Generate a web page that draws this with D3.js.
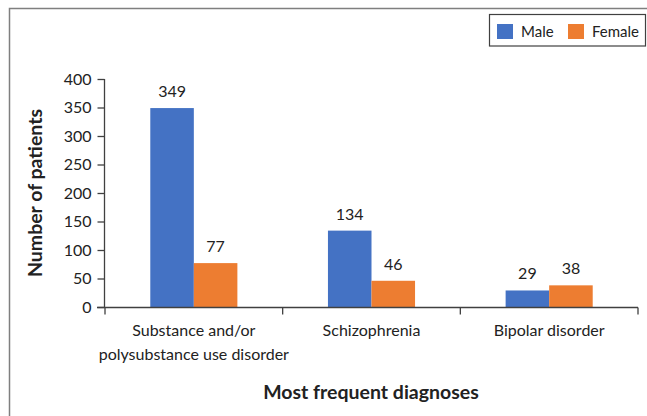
<!DOCTYPE html>
<html>
<head>
  <script src="https://d3js.org/d3.v7.min.js"></script>
  <style>
    body { margin: 0; background: #fff; }
    svg text { font-family: Lato, "Open Sans", sans-serif; fill: #222; }
  </style>
</head>
<body>
<svg id="chart" width="647" height="416"></svg>
<script>
  // data
  let diagnoses = [["Substance and/or", "polysubstance use disorder"], ["Schizophrenia"], ["Bipolar disorder"]];
  let male = [349, 134, 29];
  let female = [77, 46, 38];
  let seriesNames = ["Male", "Female"];
  let yTicks = [0, 50, 100, 150, 200, 250, 300, 350, 400];

  let colors = ["#4472C4", "#ED7D31"];

  let svg = d3.select("#chart");
  let keys = diagnoses.map(d => d.join(" "));
  let data = keys.map((k, i) => ({ key: k, lines: diagnoses[i], values: [male[i], female[i]] }));

  // outer frame
  svg.append("rect")
    .attr("x", 9.5).attr("y", 8.5)
    .attr("width", 660).attr("height", 420)
    .attr("fill", "none").attr("stroke", "#7f7f7f").attr("stroke-width", 1.5);

  let x0 = d3.scaleBand().domain(keys).range([105, 638]).paddingInner(0).paddingOuter(0);
  let x1 = d3.scaleBand().domain(seriesNames).range([0, x0.bandwidth()]).paddingInner(0).paddingOuter(1.04);
  let y = d3.scaleLinear().domain([0, 400]).range([307, 79]);

  // bars
  let groups = svg.append("g").selectAll("g").data(data).enter().append("g")
    .attr("transform", d => `translate(${x0(d.key)},0)`);

  groups.selectAll("rect")
    .data(d => d.values.map((v, j) => ({ name: seriesNames[j], v: v, j: j })))
    .enter().append("rect")
    .attr("x", d => x1(d.name))
    .attr("width", x1.bandwidth())
    .attr("y", d => y(d.v))
    .attr("height", d => y(0) - y(d.v))
    .attr("fill", d => colors[d.j]);

  groups.selectAll("text.val")
    .data(d => d.values.map((v, j) => ({ name: seriesNames[j], v: v })))
    .enter().append("text")
    .attr("class", "val")
    .attr("x", d => x1(d.name) + x1.bandwidth() / 2)
    .attr("y", d => y(d.v) - 11)
    .attr("text-anchor", "middle")
    .attr("font-size", "16px")
    .text(d => d.v);

  // y axis
  let yAxis = svg.append("g")
    .attr("transform", "translate(104.5,0)")
    .call(d3.axisLeft(y).tickValues(yTicks).tickSize(7).tickPadding(6));
  yAxis.selectAll("path, line").attr("stroke", "#404040").attr("stroke-width", 1.3);
  yAxis.select(".domain").attr("d", `M0,${y(400)}V${y(0)}`);
  yAxis.selectAll("text").attr("font-size", "16px").attr("fill", "#222")
    .style("font-family", "Lato, sans-serif");

  // x axis
  let xAxis = svg.append("g").attr("transform", `translate(0,${y(0) + 0.5})`);
  xAxis.append("line")
    .attr("x1", 97).attr("x2", 638)
    .attr("stroke", "#404040").attr("stroke-width", 1.3);
  let bounds = keys.map(k => x0(k)).concat([x0(keys[keys.length - 1]) + x0.bandwidth()]);
  xAxis.selectAll("line.tick").data(bounds).enter().append("line")
    .attr("class", "tick")
    .attr("x1", d => d).attr("x2", d => d)
    .attr("y1", 0).attr("y2", 7)
    .attr("stroke", "#404040").attr("stroke-width", 1.3);

  let labels = svg.append("g").selectAll("text").data(data).enter().append("text")
    .attr("x", d => x0(d.key) + x0.bandwidth() / 2)
    .attr("y", 336)
    .attr("text-anchor", "middle")
    .attr("font-size", "16px");
  labels.selectAll("tspan").data(d => d.lines).enter().append("tspan")
    .attr("x", function () { return d3.select(this.parentNode).attr("x"); })
    .attr("dy", (d, i) => i === 0 ? 0 : 24)
    .text(d => d);

  // axis titles
  svg.append("text")
    .attr("transform", "translate(42,193) rotate(-90)")
    .attr("text-anchor", "middle")
    .attr("font-size", "19.5px")
    .attr("font-weight", "bold")
    .text("Number of patients");

  svg.append("text")
    .attr("x", 371).attr("y", 399)
    .attr("text-anchor", "middle")
    .attr("font-size", "19.5px")
    .attr("font-weight", "bold")
    .text("Most frequent diagnoses");

  // legend
  let legend = svg.append("g");
  legend.append("rect")
    .attr("x", 489.5).attr("y", 14.5).attr("width", 156).attr("height", 31.5)
    .attr("fill", "#fff").attr("stroke", "#404040").attr("stroke-width", 1.2);
  let lx = [497, 568];
  let items = legend.selectAll("g").data(seriesNames).enter().append("g")
    .attr("transform", (d, i) => `translate(${lx[i]},24)`);
  items.append("rect").attr("width", 16).attr("height", 15).attr("fill", (d, i) => colors[i]);
  items.append("text").attr("x", 24).attr("y", 12.5).attr("font-size", "15px").text(d => d);
</script>
</body>
</html>
